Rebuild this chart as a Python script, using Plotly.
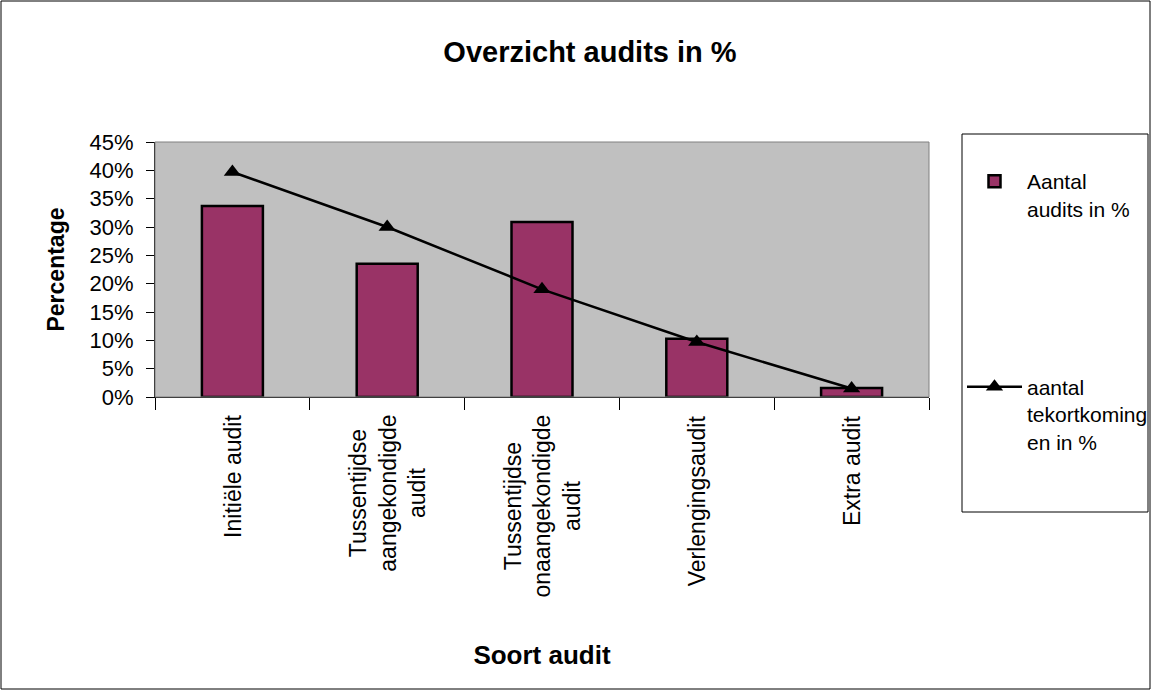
import plotly.graph_objects as go

categories = ["Initiële audit", "Tussentijdse<br>aangekondigde<br>audit",
              "Tussentijdse<br>onaangekondigde<br>audit", "Verlengingsaudit", "Extra audit"]
audits_pct = [0.337, 0.235, 0.309, 0.103, 0.016]
tekort_pct = [0.397, 0.300, 0.190, 0.097, 0.015]
y_ticks = [i * 0.05 for i in range(10)]
y_tick_labels = [f"{i*5}%" for i in range(10)]

FONT = "Liberation Sans, Arial, sans-serif"

fig = go.Figure()
fig.add_trace(go.Bar(
    x=categories, y=audits_pct, name="Aantal<br>audits in %",
    marker=dict(color="#993366", line=dict(color="black", width=2.5)),
    legendgroup="a",
))
fig.add_trace(go.Scatter(
    x=categories, y=tekort_pct, name="aantal<br>tekortkoming<br>en in %",
    mode="lines+markers",
    line=dict(color="black", width=2.5),
    marker=dict(symbol="triangle-up", size=15, color="black"),
    legendgroup="b",
))

L, R, T, B = 155, 929, 142, 397
W, H = 1152, 691
pw, ph = R - L, B - T

def px(x):
    return (x - L) / pw

def py(y):
    return (B - y) / ph

shapes = [
    dict(type="rect", xref="paper", yref="paper", x0=px(1), x1=px(1150), y0=py(1), y1=py(689),
         line=dict(color="black", width=1), layer="below"),
    dict(type="rect", xref="paper", yref="paper", x0=0, x1=1, y0=0, y1=1,
         line=dict(color="#808080", width=1), layer="above"),
    dict(type="rect", xref="paper", yref="paper", x0=px(962), x1=px(1148), y0=py(134), y1=py(512),
         line=dict(color="black", width=1), fillcolor="white", layer="below"),
]

# category labels, rotated, centred per line (placed on the category axis)
annotations = [
    dict(text=c, x=c, xref="x", y=0, yref="paper", xanchor="center", yanchor="top",
         yshift=-16, textangle=-90, showarrow=False, align="center",
         font=dict(size=23, family=FONT, color="black"))
    for c in categories
]

fig.update_layout(
    width=W, height=H,
    margin=dict(l=L, r=W - R, t=T, b=H - B, autoexpand=False),
    paper_bgcolor="white",
    plot_bgcolor="#C0C0C0",
    font=dict(family=FONT, size=22, color="black"),
    title=dict(text="<b>Overzicht audits in %</b>", x=590 / W, xanchor="center",
               y=1 - 52 / H, yanchor="middle", font=dict(size=29, family=FONT)),
    bargap=0.606,
    showlegend=True,
    legend=dict(x=px(962), y=py(161), xanchor="left", yanchor="top",
                bgcolor="rgba(0,0,0,0)", borderwidth=0, valign="top",
                font=dict(size=21, family=FONT), tracegroupgap=148,
                traceorder="grouped", itemwidth=55, maxheight=600),
    shapes=shapes,
    annotations=annotations,
)
fig.update_xaxes(
    type="category", tickson="boundaries", ticks="outside",
    ticklen=12, tickcolor="black", showline=True, linecolor="black", linewidth=1,
    showgrid=False, showticklabels=False, automargin=False,
    title=dict(text="<b>Soort audit</b>", font=dict(size=26, family=FONT), standoff=248),
)
fig.update_yaxes(
    range=[0, 0.45], tickvals=y_ticks, ticktext=y_tick_labels,
    ticks="outside", ticklen=8, tickcolor="black",
    showline=True, linecolor="black", linewidth=1, showgrid=False, zeroline=False,
    tickfont=dict(size=22, family=FONT), ticklabelstandoff=8, automargin=False,
    title=dict(text="<b>Percentage</b>", font=dict(size=23, family=FONT), standoff=18),
)

fig.write_html("out.html", post_script="document.body.style.margin='0px';",
               config={"displayModeBar": False})
